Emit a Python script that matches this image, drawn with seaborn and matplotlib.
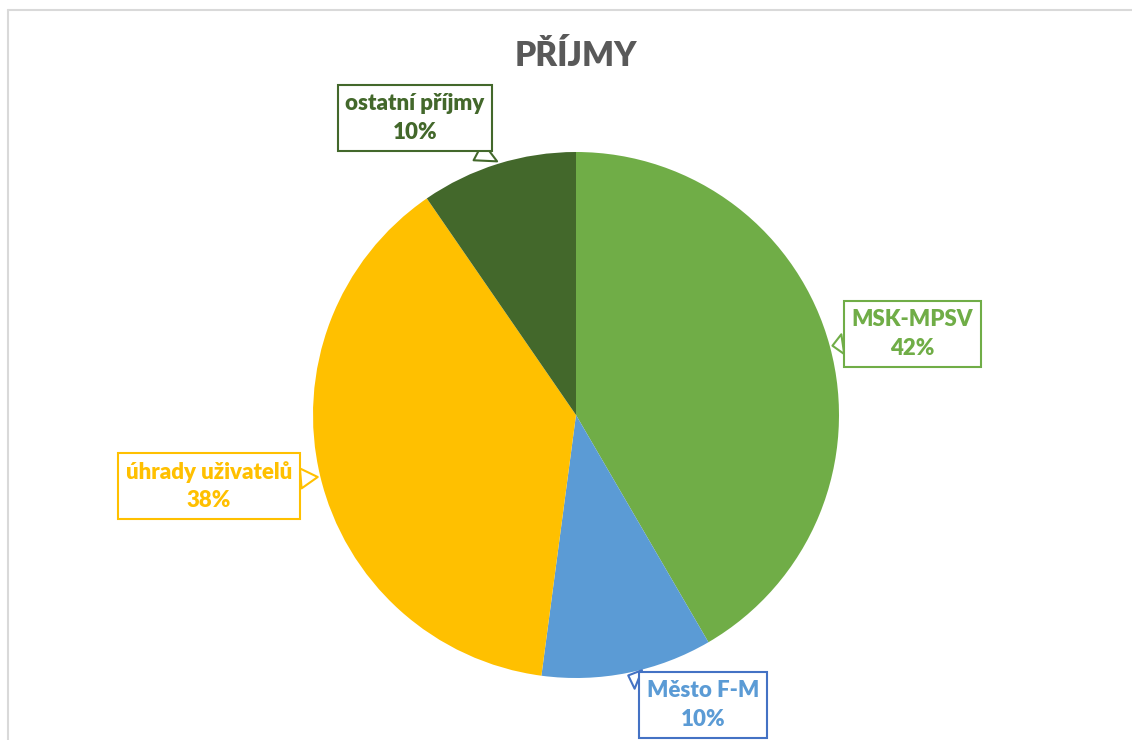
import numpy as np
import matplotlib
matplotlib.use("Agg")
import matplotlib.pyplot as plt
import seaborn as sns
from matplotlib.lines import Line2D

# ---- data ----
categories = ["MSK-MPSV", "Město F-M", "úhrady uživatelů", "ostatní příjmy"]
values = [41.6, 10.5, 38.3, 9.6]
pct_labels = ["42%", "10%", "38%", "10%"]
title = "PŘÍJMY"

sns.set_theme(style="white")
plt.rcParams['font.family'] = ['Lato', 'DejaVu Sans']

slice_colors = sns.color_palette(["#70AD47", "#5B9BD5", "#FFC000", "#43682B"])
text_colors = ["#70AD47", "#5B9BD5", "#FFC000", "#43682B"]
edge_colors = ["#70AD47", "#4472C4", "#FFC000", "#43682B"]
# label box centres (in pie-radius units)
label_pos = [(1.278, 0.308), (0.483, -1.103), (-1.395, -0.270), (-0.612, 1.129)]

W, H = 1132, 740
fig = plt.figure(figsize=(W / 100, H / 100), dpi=100)
cx, cy, r = 576, 415, 263
ax = fig.add_axes([(cx - r) / W, (H - cy - r) / H, 2 * r / W, 2 * r / H])

wedges, _ = ax.pie(values, colors=slice_colors, startangle=90, counterclock=False,
                   radius=1.0, center=(0, 0), frame=False,
                   wedgeprops=dict(linewidth=0, edgecolor="none"))
ax.set_xlim(-1, 1)
ax.set_ylim(-1, 1)
ax.set_aspect("equal")
ax.axis("off")

for w, cat, pct, tc, ec, (lx, ly) in zip(wedges, categories, pct_labels,
                                          text_colors, edge_colors, label_pos):
    mid = np.deg2rad((w.theta1 + w.theta2) / 2)
    tip = (1.01 * np.cos(mid), 1.01 * np.sin(mid))
    ax.annotate(f"{cat}\n{pct}", xy=tip, xytext=(lx, ly),
                ha="center", va="center", fontsize=16, fontweight="heavy",
                color=tc, linespacing=1.45, annotation_clip=False,
                bbox=dict(boxstyle="square,pad=0.35", fc="white", ec=ec, lw=1.5),
                arrowprops=dict(arrowstyle="wedge,tail_width=0.9,shrink_factor=0.5",
                                fc="white", ec=ec, lw=1.5, shrinkA=0, shrinkB=0),
                zorder=5)

fig.text(576 / W, 1 - 56 / H, title, ha="center", va="center",
         fontsize=24, fontweight="heavy", color="#595959")

# outer chart-area border (partially visible)
fig.add_artist(Line2D([8 / W, 1.0], [1 - 10 / H, 1 - 10 / H], transform=fig.transFigure,
                      color="#D9D9D9", lw=1.5))
fig.add_artist(Line2D([8 / W, 8 / W], [0, 1 - 10 / H], transform=fig.transFigure,
                      color="#D9D9D9", lw=1.5))

fig.savefig("out.png", dpi=100, facecolor="white")
